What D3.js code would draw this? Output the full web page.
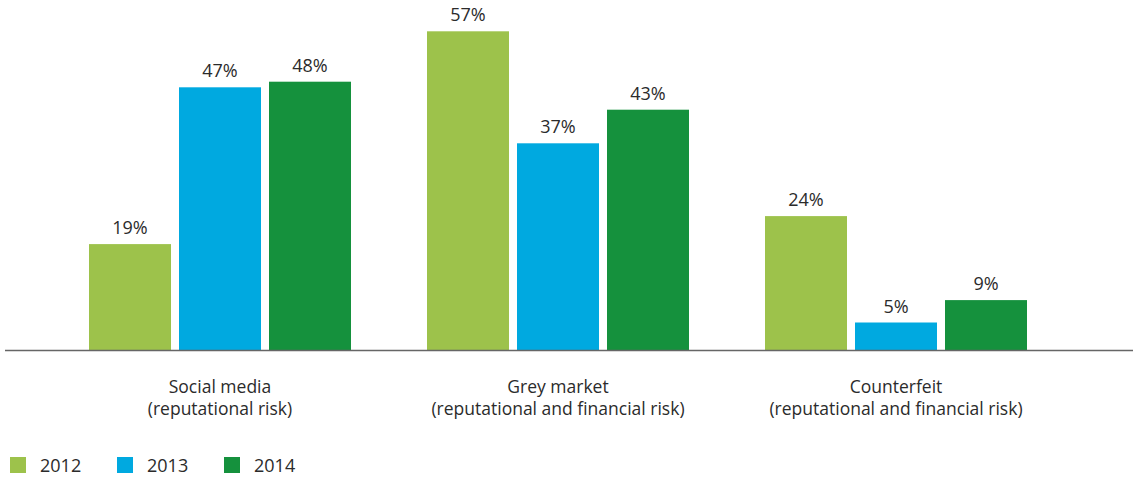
<!DOCTYPE html>
<html>
<head>
<meta charset="utf-8">
<script src="https://cdn.jsdelivr.net/npm/d3@7"></script>
<style>
  html, body { margin: 0; padding: 0; background: #fff; }
  svg { display: block; font-family: "Open Sans", "Noto Sans", sans-serif; }
</style>
</head>
<body>
<svg id="chart" width="1137" height="480"></svg>
<script>
// Risk categories and their two-line labels
const categories = ["Social media", "Grey market", "Counterfeit"];
const categorySubtitles = ["(reputational risk)", "(reputational and financial risk)", "(reputational and financial risk)"];

// Survey years
const years = ["2012", "2013", "2014"];

// Share of respondents (%) per category, one array per year
const values2012 = [19, 57, 24];
const values2013 = [47, 37, 5];
const values2014 = [48, 43, 9];

const colors = ["#9dc24b", "#00a9e0", "#15913d"];

const seriesByYear = [values2012, values2013, values2014];

const svg = d3.select("#chart");
const baseY = 350.5;

const x0 = d3.scaleBand().domain(categories).range([51, 1065]).padding(0);
const x1 = d3.scaleBand().domain(years).range([38, 300]).paddingInner(8 / 90).paddingOuter(0);
const y = d3.scaleLinear().domain([0, 60]).range([baseY, baseY - 60 * 5.6]);
const color = d3.scaleOrdinal().domain(years).range(colors);

const rows = categories.map((c, i) => ({
  category: c,
  subtitle: categorySubtitles[i],
  bars: years.map((yr, j) => ({ year: yr, value: seriesByYear[j][i] }))
}));

const groups = svg.selectAll("g.group")
  .data(rows)
  .join("g")
  .attr("class", "group")
  .attr("transform", d => `translate(${x0(d.category)},0)`);

groups.selectAll("rect")
  .data(d => d.bars)
  .join("rect")
  .attr("x", d => x1(d.year))
  .attr("width", x1.bandwidth())
  .attr("y", d => y(d.value))
  .attr("height", d => y(0) - y(d.value))
  .attr("fill", d => color(d.year));

groups.selectAll("text.value")
  .data(d => d.bars)
  .join("text")
  .attr("class", "value")
  .attr("x", d => x1(d.year) + x1.bandwidth() / 2)
  .attr("y", d => y(d.value) - 10)
  .attr("text-anchor", "middle")
  .attr("font-size", 18)
  .attr("fill", "#2b2b2b")
  .text(d => d.value + "%");

// Baseline
svg.append("line")
  .attr("x1", 5).attr("x2", 1133)
  .attr("y1", baseY).attr("y2", baseY)
  .attr("stroke", "#666")
  .attr("stroke-width", 1.6);

// Category labels
const labels = svg.selectAll("text.cat")
  .data(rows)
  .join("text")
  .attr("class", "cat")
  .attr("text-anchor", "middle")
  .attr("font-size", 17.5)
  .attr("fill", "#2b2b2b");
labels.append("tspan")
  .attr("x", d => x0(d.category) + x0.bandwidth() / 2)
  .attr("y", 393)
  .text(d => d.category);
labels.append("tspan")
  .attr("x", d => x0(d.category) + x0.bandwidth() / 2)
  .attr("y", 415)
  .text(d => d.subtitle);

// Legend
const legendX = [10, 117, 224];
const legend = svg.selectAll("g.legend")
  .data(years)
  .join("g")
  .attr("class", "legend")
  .attr("transform", (d, i) => `translate(${legendX[i]},457)`);
legend.append("rect")
  .attr("width", 16).attr("height", 16)
  .attr("fill", d => color(d));
legend.append("text")
  .attr("x", 30).attr("y", 15)
  .attr("font-size", 18)
  .attr("fill", "#2b2b2b")
  .text(d => d);
</script>
</body>
</html>
